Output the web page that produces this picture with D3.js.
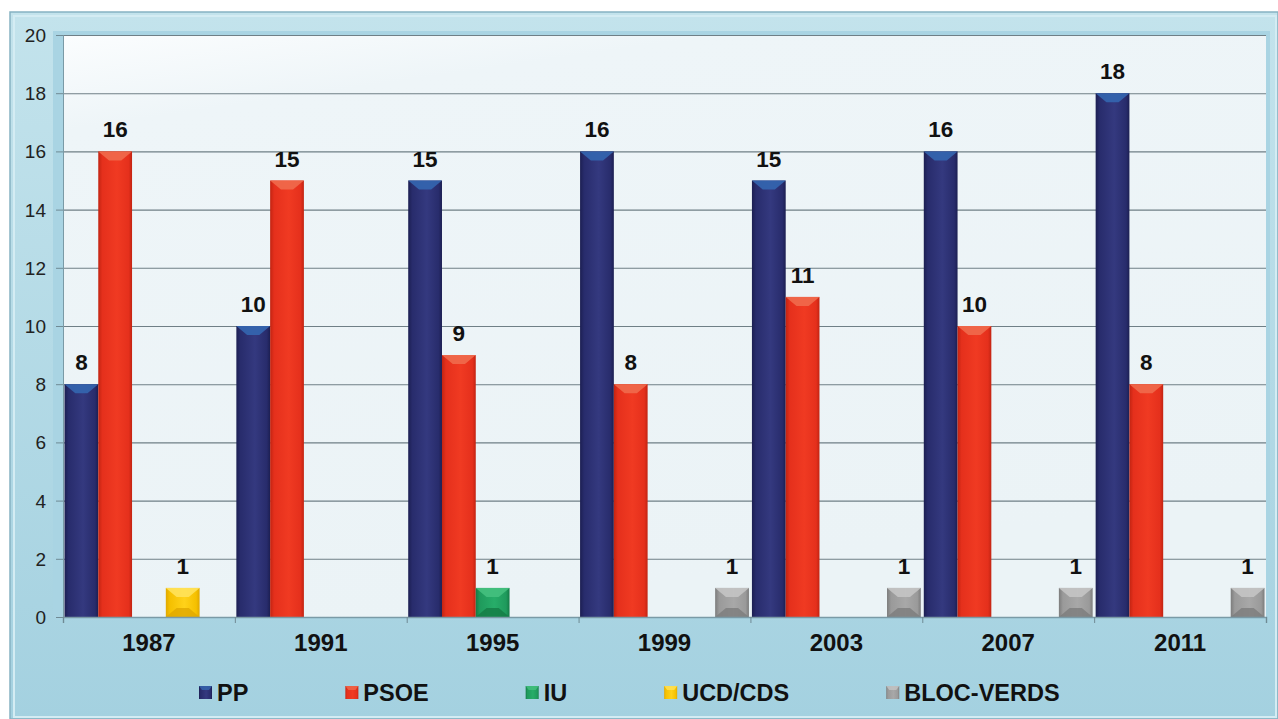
<!DOCTYPE html>
<html><head><meta charset="utf-8">
<script src="https://cdn.jsdelivr.net/npm/d3@7"></script>
<style>html,body{margin:0;padding:0;background:#fff;}svg{display:block;}</style>
</head><body>
<svg id="chart" width="1278" height="719"></svg>
<script>
const years = ["1987","1991","1995","1999","2003","2007","2011"];
const seriesNames = ["PP","PSOE","IU","UCD/CDS","BLOC-VERDS"];
const ppValues = [8,10,15,16,15,16,18];
const psoeValues = [16,15,9,8,11,10,8];
const iuValues = [0,0,1,0,0,0,0];
const ucdValues = [1,0,0,0,0,0,0];
const blocValues = [0,0,0,1,1,1,1];
const yTickValues = [0,2,4,6,8,10,12,14,16,18,20];

const seriesValues = [ppValues, psoeValues, iuValues, ucdValues, blocValues];
const colors = {
  "PP":        {base:"#282c6c", dark:"#1c1f52", light:"#34397f", cap:"#3466b0"},
  "PSOE":      {base:"#e5301c", dark:"#c22412", light:"#f03a22", cap:"#ef6a4c"},
  "IU":        {base:"#1f9a5c", dark:"#147a45", light:"#27ad69", cap:"#45c07e"},
  "UCD/CDS":   {base:"#f5c000", dark:"#e0a800", light:"#ffd21a", cap:"#ffe25a"},
  "BLOC-VERDS":{base:"#9a9a9a", dark:"#7c7c7c", light:"#a8a8a8", cap:"#c4c4c4"}
};

(function(){
const svg = d3.select("#chart");
const defs = svg.append("defs");

const fg = defs.append("linearGradient").attr("id","frameGrad").attr("x1",0).attr("y1",0).attr("x2",0).attr("y2",1);
fg.append("stop").attr("offset","0%").attr("stop-color","#c3e3ec");
fg.append("stop").attr("offset","100%").attr("stop-color","#a4d1e0");
const pg = defs.append("linearGradient").attr("id","plotGrad").attr("x1",0).attr("y1",0).attr("x2",0.3).attr("y2",1);
pg.append("stop").attr("offset","0%").attr("stop-color","#fbfdfe");
pg.append("stop").attr("offset","15%").attr("stop-color","#eef5f8");
pg.append("stop").attr("offset","100%").attr("stop-color","#ebf3f6");

seriesNames.forEach((s,i)=>{
  const g = defs.append("linearGradient").attr("id","bar"+i).attr("x1",0).attr("y1",0).attr("x2",1).attr("y2",0);
  g.append("stop").attr("offset","0%").attr("stop-color",colors[s].dark);
  g.append("stop").attr("offset","12%").attr("stop-color",colors[s].base);
  g.append("stop").attr("offset","55%").attr("stop-color",colors[s].light);
  g.append("stop").attr("offset","90%").attr("stop-color",colors[s].base);
  g.append("stop").attr("offset","100%").attr("stop-color",colors[s].dark);
});

svg.append("rect").attr("x",10).attr("y",12).attr("width",1268).attr("height",707)
  .attr("fill","url(#frameGrad)").attr("stroke","#86b2c2").attr("stroke-width",1.5);
svg.append("rect").attr("x",14).attr("y",16).attr("width",1262).attr("height",701)
  .attr("fill","none").attr("stroke","#d4ecf3").attr("stroke-width",2);

const pLeft = 63, pRight = 1266, pTop = 35, pBottom = 617;

svg.append("rect").attr("x",pLeft-10).attr("y",pTop-4).attr("width",pRight-pLeft+14).attr("height",pBottom-pTop+6)
  .attr("fill","#a9d4e3");
svg.append("rect").attr("x",pLeft).attr("y",pTop).attr("width",pRight-pLeft).attr("height",pBottom-pTop)
  .attr("fill","url(#plotGrad)");

const y = d3.scaleLinear().domain([0,20]).range([pBottom, pTop]);
const x0 = d3.scaleBand().domain(years).range([pLeft, pRight]).paddingInner(0).paddingOuter(0);
const x1 = d3.scaleBand().domain(seriesNames).range([1.5, x0.bandwidth()-1.5]).padding(0);

const grid = svg.append("g").attr("transform",`translate(${pLeft},0)`)
  .call(d3.axisLeft(y).tickValues(yTickValues.filter(v=>v>0)).tickSize(-(pRight-pLeft)).tickFormat(""));
grid.select(".domain").remove();
grid.selectAll("line").attr("stroke","#6f7f86").attr("stroke-width",1.1);

const yAxis = svg.append("g").attr("transform",`translate(${pLeft},0)`)
  .call(d3.axisLeft(y).tickValues(yTickValues).tickSize(7).tickPadding(10));
yAxis.select(".domain").attr("stroke","#7a9aa6");
yAxis.selectAll("line").attr("stroke","#6f8a94");
yAxis.selectAll("text").attr("font-family","'Liberation Sans', Arial, sans-serif")
  .attr("font-size","19px").attr("fill","#222").attr("dy","0.34em");

const groups = svg.append("g").selectAll("g").data(years).join("g")
  .attr("transform",d=>`translate(${x0(d)},0)`);

seriesNames.forEach((s,si)=>{
  const vals = seriesValues[si];
  groups.each(function(yr,yi){
    const v = vals[yi];
    if(!v) return;
    const g = d3.select(this);
    const bx = x1(s), bw = x1.bandwidth();
    const by = y(v), bh = y(0) - y(v);
    g.append("rect").attr("x",bx).attr("y",by).attr("width",bw).attr("height",bh)
      .attr("fill","url(#bar"+si+")");
    const depth = Math.min(bh/2, 9);
    g.append("path").attr("d",`M${bx},${by} L${bx+bw},${by} L${bx+bw-depth*1.2},${by+depth} L${bx+depth*1.2},${by+depth} Z`)
      .attr("fill",colors[s].cap).attr("opacity",0.9);
    if(bh < 40){
      g.append("path").attr("d",`M${bx},${by+bh} L${bx+bw},${by+bh} L${bx+bw-depth*1.2},${by+bh-depth} L${bx+depth*1.2},${by+bh-depth} Z`)
        .attr("fill",colors[s].dark).attr("opacity",0.8);
    }
    g.append("text").attr("x",bx+bw/2).attr("y",by-14)
      .attr("text-anchor","middle")
      .attr("font-family","'Liberation Sans', Arial, sans-serif").attr("font-weight","bold")
      .attr("font-size","22.5px").attr("fill","#111").text(v);
  });
});

const xIdx = d3.scaleLinear().domain([0, years.length]).range([pLeft, pRight]);
const xAxisB = svg.append("g").attr("transform",`translate(0,${pBottom})`)
  .call(d3.axisBottom(xIdx).tickValues(d3.range(years.length+1)).tickSize(6).tickFormat(""));
xAxisB.select(".domain").attr("stroke","#7a9aa6").attr("stroke-width",1.5);
xAxisB.selectAll("line").attr("stroke","#6f8a94");

const xAxis = svg.append("g").attr("transform",`translate(0,${pBottom})`)
  .call(d3.axisBottom(x0).tickSize(0).tickPadding(17));
xAxis.select(".domain").remove();
xAxis.selectAll("text").attr("font-family","'Liberation Sans', Arial, sans-serif")
  .attr("font-weight","bold").attr("font-size","24px").attr("fill","#111");

const legend = svg.append("g").attr("transform","translate(0,701)");
let lx = 199;
seriesNames.forEach((s,si)=>{
  const item = legend.append("g").attr("transform",`translate(${lx},0)`);
  item.append("rect").attr("x",0).attr("y",-15).attr("width",13).attr("height",13)
    .attr("fill","url(#bar"+si+")");
  item.append("path").attr("d","M0,-15 L13,-15 L10,-11 L3,-11 Z").attr("fill",colors[s].cap).attr("opacity",0.8);
  const t = item.append("text").attr("x",18).attr("y",0)
    .attr("font-family","'Liberation Sans', Arial, sans-serif").attr("font-weight","bold")
    .attr("font-size","23.5px").attr("fill","#111").text(s);
  const w = t.node().getComputedTextLength();
  lx += 18 + w + 97;
});
})();
</script>
</body></html>
